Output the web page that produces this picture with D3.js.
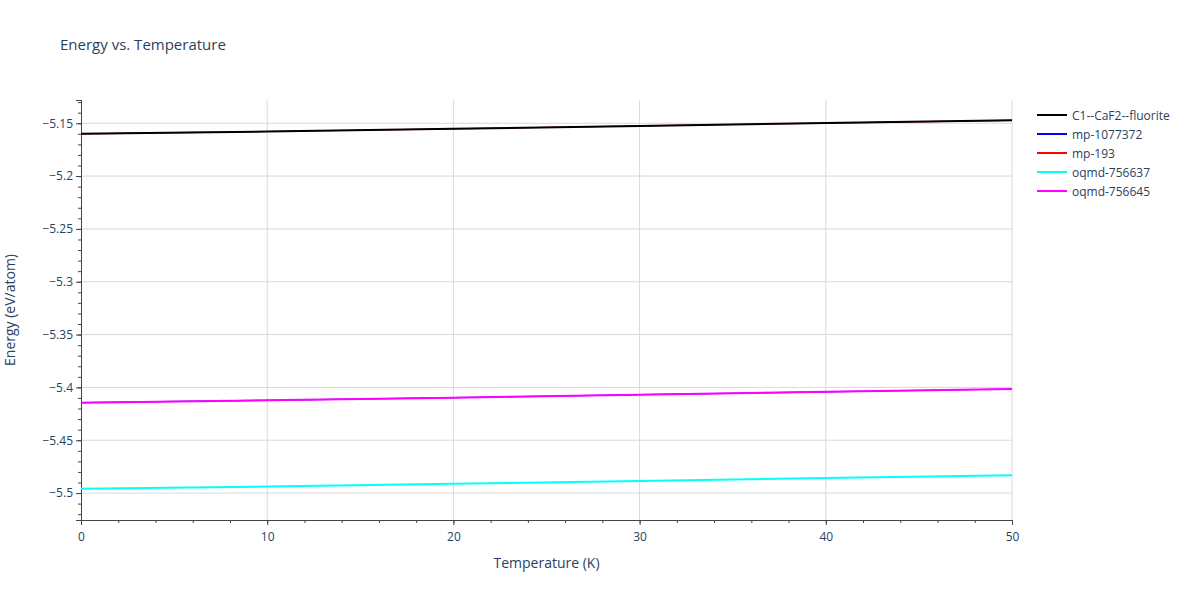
<!DOCTYPE html>
<html><head><meta charset="utf-8">
<script src="https://cdn.jsdelivr.net/npm/d3@7"></script>
<style>body{margin:0;background:#fff;font-family:"Open Sans",sans-serif;}</style>
</head><body><svg id="c" width="1200" height="600"></svg>
<script>
const temps = [0, 10, 20, 30, 40, 50];
const seriesNames = ["C1--CaF2--fluorite", "mp-1077372", "mp-193", "oqmd-756637", "oqmd-756645"];
const seriesColors = ["#000000", "#0000ff", "#ff0000", "#00ffff", "#ff00ff"];
const fluorite = [-5.1600, -5.1578, -5.1553, -5.1525, -5.1498, -5.1472];
const mp1077372 = [-5.4145, -5.4122, -5.4097, -5.4069, -5.4042, -5.4015];
const mp193 = [-5.1600, -5.1578, -5.1553, -5.1525, -5.1498, -5.1472];
const oqmd756637 = [-5.4960, -5.4938, -5.4913, -5.4885, -5.4858, -5.4832];
const oqmd756645 = [-5.4145, -5.4122, -5.4097, -5.4069, -5.4042, -5.4015];
const seriesValues = [fluorite, mp1077372, mp193, oqmd756637, oqmd756645];
const xTicks = [0, 10, 20, 30, 40, 50];
const yTicks = [-5.5, -5.45, -5.4, -5.35, -5.3, -5.25, -5.2, -5.15];

const svg = d3.select("#c");
const L = 81, R = 1012, T = 100, B = 520;
const x = d3.scaleLinear().domain([0, 50]).range([L, R]);
const y = d3.scaleLinear().domain([-5.5255, -5.128]).range([B, T]);
const txt = "#2a3f5f";

svg.append("text").attr("x", 60).attr("y", 50).attr("fill", txt).attr("font-size", 15).text("Energy vs. Temperature");

const g = svg.append("g");
g.selectAll(".vg").data(xTicks.slice(1)).join("line").attr("x1", d => x(d)).attr("x2", d => x(d)).attr("y1", T).attr("y2", B).attr("stroke", "#d9d9d9");
g.selectAll(".hg").data(yTicks).join("line").attr("x1", L).attr("x2", R).attr("y1", d => y(d)).attr("y2", d => y(d)).attr("stroke", "#d9d9d9");

const xa = svg.append("g").attr("transform", `translate(0,${B})`)
  .call(d3.axisBottom(x).tickValues(xTicks).tickSize(5).tickFormat(d3.format("d")));
const xm = svg.append("g").attr("transform", `translate(0,${B})`)
  .call(d3.axisBottom(x).tickValues(d3.range(0, 50.01, 2)).tickSize(3).tickFormat(""));
const ya = svg.append("g").attr("transform", `translate(${L},0)`)
  .call(d3.axisLeft(y).tickValues(yTicks).tickSize(5).tickFormat(d => d3.format(".2~f")(d).replace("-", "\u2212")));
const ym = svg.append("g").attr("transform", `translate(${L},0)`)
  .call(d3.axisLeft(y).tickValues(d3.range(-5.52, -5.129, 0.01)).tickSize(3).tickFormat(""));
[xa, xm, ya, ym].forEach(a => {
  a.selectAll("path").attr("stroke", "#444");
  a.selectAll("line").attr("stroke", "#444");
  a.selectAll("text").attr("fill", txt).attr("font-size", 12).attr("font-family", "Open Sans, sans-serif");
});
xa.selectAll("text").attr("dy", "1.1em");

svg.append("text").attr("x", (L + R) / 2).attr("y", 568).attr("text-anchor", "middle").attr("fill", txt).attr("font-size", 14).text("Temperature (K)");
svg.append("text").attr("transform", `translate(15,${(T + B) / 2}) rotate(-90)`).attr("text-anchor", "middle").attr("fill", txt).attr("font-size", 14).text("Energy (eV/atom)");

const line = d3.line().x((d, i) => x(temps[i])).y(d => y(d));
const order = [1, 2, 0, 3, 4];
order.forEach(i => {
  const hidden = (i === 1 || i === 2);
  svg.append("path").datum(seriesValues[i]).attr("d", line).attr("fill", "none").attr("stroke", seriesColors[i]).attr("stroke-width", hidden ? 1.2 : 2);
});

const lg = svg.append("g").attr("transform", "translate(1037,115)");
seriesNames.forEach((n, i) => {
  const r = lg.append("g").attr("transform", `translate(0,${i * 19})`);
  r.append("line").attr("x1", 0).attr("x2", 30).attr("stroke", seriesColors[i]).attr("stroke-width", 2);
  r.append("text").attr("x", 35).attr("y", 4.5).attr("fill", txt).attr("font-size", 12).text(n);
});
</script></body></html>
